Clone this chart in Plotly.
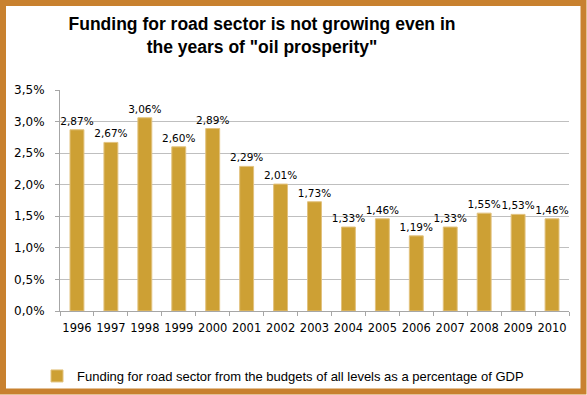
import plotly.graph_objects as go

years = ["1996", "1997", "1998", "1999", "2000", "2001", "2002", "2003",
         "2004", "2005", "2006", "2007", "2008", "2009", "2010"]
funding_pct = [2.87, 2.67, 3.06, 2.60, 2.89, 2.29, 2.01, 1.73,
               1.33, 1.46, 1.19, 1.33, 1.55, 1.53, 1.46]
series_name = "Funding for road sector from the budgets of all levels as a percentage of GDP"
title_text = "<b>Funding for road sector is not growing even in<br>the years of \"oil prosperity\"</b>"

W, H = 587, 395
L, R, T, B = 60, 18, 90, 84
pw, ph = W - L - R, H - T - B

def px_x(x):
    return (x - L) / pw

def px_y(y):
    return (H - B - y) / ph

NARROW = "Liberation Sans Narrow, Arial Narrow, sans-serif"

fig = go.Figure()
fig.add_trace(go.Bar(
    x=years, y=funding_pct, name=series_name,
    marker=dict(color="#CDA034", line=dict(color="#E2C27E", width=1)),
    texttemplate="%{y:.2f}%", textposition="outside", cliponaxis=False,
    constraintext="none",
    textfont=dict(family="DejaVu Sans", size=10.5, color="#000000"),
))

fig.update_layout(
    width=W, height=H, autosize=False,
    margin=dict(l=L, r=R, t=T, b=B),
    paper_bgcolor="white", plot_bgcolor="white",
    separators=",.",
    bargap=0.59,
    showlegend=True,
    title=dict(text=title_text, x=262 / W, xanchor="center", xref="container",
               y=1 - 30 / H, yanchor="middle",
               font=dict(family=NARROW, size=17.5, color="#000000")),
    legend=dict(orientation="h", xref="container", yref="container",
                x=37 / W, xanchor="left", y=1 - 376 / H, yanchor="middle",
                font=dict(family=NARROW, size=13, color="#000000"),
                bgcolor="rgba(0,0,0,0)"),
    xaxis=dict(showline=True, linecolor="#A6A6A6", linewidth=1, ticks="outside",
               tickson="boundaries", ticklen=4, tickcolor="#A6A6A6", tickangle=0,
               ticklabelstandoff=6, automargin=False,
               tickfont=dict(family="DejaVu Sans", size=11.5, color="#000000"), showgrid=False),
    yaxis=dict(range=[0, 3.5], dtick=0.5, tickformat=".1f", ticksuffix="%",
               showline=True, linecolor="#A6A6A6", linewidth=1, ticks="outside", ticklen=4,
               tickcolor="#A6A6A6", showgrid=True, gridcolor="#BFBFBF", gridwidth=1,
               zeroline=False, ticklabelstandoff=8, automargin=False,
               tickfont=dict(family="DejaVu Sans", size=12, color="#000000")),
    shapes=[dict(type="rect", xref="paper", yref="paper",
                 x0=px_x(3), x1=px_x(583.5), y0=px_y(3), y1=px_y(391.5),
                 line=dict(color="#C8812F", width=6), fillcolor="rgba(0,0,0,0)", layer="above")],
)

fig.write_html(
    "out.html",
    config={"displayModeBar": False, "responsive": False},
    post_script="document.documentElement.style.overflow='hidden';"
                "document.body.style.margin='0px';document.body.style.overflow='hidden';",
)
